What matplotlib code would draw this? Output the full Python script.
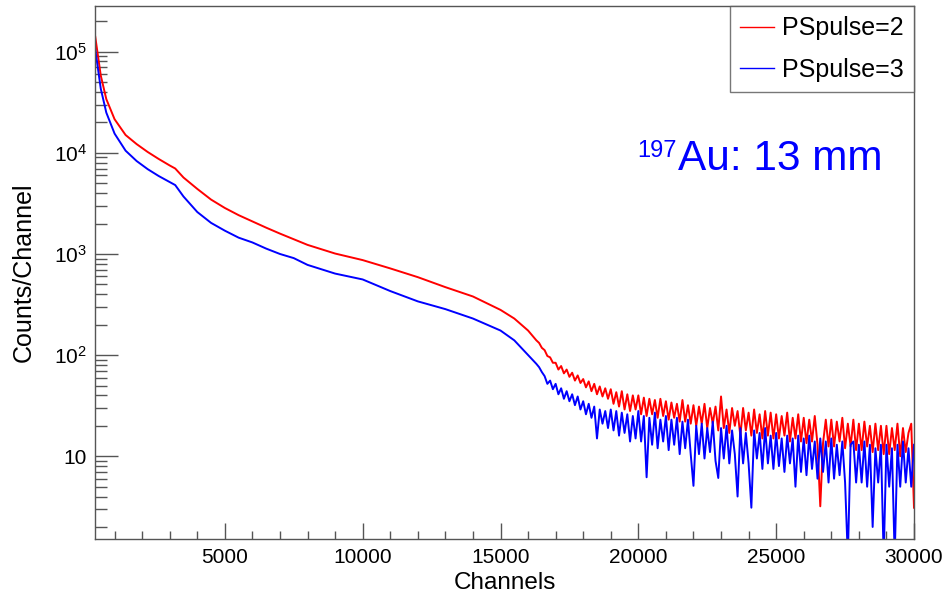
import numpy as np
import matplotlib
matplotlib.use("Agg")
import matplotlib.pyplot as plt
from matplotlib.ticker import FixedLocator, LogLocator, NullFormatter, MultipleLocator

plt.rcParams['font.family'] = ['Liberation Sans', 'DejaVu Sans']
plt.rcParams['mathtext.fontset'] = 'custom'
plt.rcParams['mathtext.rm'] = 'Liberation Sans'
plt.rcParams['mathtext.it'] = 'Liberation Sans:italic'

# ---- data ----
ch_main = [300, 500, 700, 1000, 1400, 1800, 2200, 2600, 3000, 3200, 3500, 4000, 4500,
           5000, 5500, 6000, 6500, 7000, 7500, 8000, 9000, 10000, 11000, 12000, 13000,
           14000, 15000, 15500, 16000, 16300]
red_main = [140000, 58000, 34000, 21500, 15000, 12200, 10200, 8700, 7500, 7000, 5700, 4400, 3450,
            2850, 2420, 2100, 1820, 1590, 1400, 1230, 1010, 870, 720, 590, 470,
            380, 280, 230, 175, 140]
blue_main = [105000, 43000, 25000, 15500, 10500, 8300, 6900, 5900, 5150, 4800, 3700, 2600, 2030,
             1700, 1450, 1300, 1130, 1000, 910, 780, 640, 560, 430, 340, 285,
             230, 175, 140, 100, 82]

ch_tail = list(range(16400, 30001, 100))
red_tail = [132, 118, 112, 98, 95, 84,
            84, 72, 78, 66, 72, 61, 67, 56, 63, 53,
            58, 48, 55, 44, 52, 41, 49, 39, 47, 37,
            46, 33, 43, 31, 44, 29, 41, 28, 40, 29,
            40, 26, 38, 25, 37, 26, 36, 24, 37, 25,
            35, 23, 34, 24, 33, 22, 36, 22, 32, 21,
            32, 20, 31, 21, 33, 19, 30, 21, 31, 18,
            39, 19, 29, 17, 30, 20, 28, 16, 30, 18,
            27, 16, 29, 17, 26, 15, 28, 16, 27, 15,
            26, 15, 25, 16, 27, 14, 24, 15, 26, 14,
            24, 13.5, 23, 14, 25, 13, 3.2, 13.5, 23, 12.5,
            23, 12.5, 22, 14, 24, 12, 21, 12.5, 23, 11.5,
            21, 11.5, 22, 12.5, 20, 11, 21, 11.5, 20, 10.5,
            20, 10.5, 19, 11.5, 21, 10, 19, 11, 17, 21,
            3.1]
blue_tail = [76, 68, 62, 52, 56, 46,
             52, 41, 47, 37, 44, 35, 41, 32, 39, 29,
             35, 26, 33, 24, 31, 15, 29, 21, 28, 19,
             29, 18, 28, 16, 27, 17, 26, 14, 25, 15,
             28, 14, 25, 6.2, 24, 13, 27, 12, 23, 14,
             25, 11.5, 23, 13, 24, 10.5, 22, 12, 23, 10.5,
             5.1, 20, 10.5, 21, 9.5, 19, 11, 22, 9, 6.1,
             19, 9.5, 20, 8.5, 18, 10.5, 4.0, 19, 8.5, 17,
             8.5, 3.1, 18, 9.5, 17, 7.5, 19, 8.5, 16, 7.5,
             17, 8, 15, 7, 16, 8.5, 15, 5.0, 16, 7,
             15, 6.5, 16, 7.5, 14, 6, 15, 7, 14, 5.5,
             15, 6, 13, 6.5, 14, 5.5, 1.0, 13, 14, 5.5,
             13, 5.5, 14, 5, 13, 2.0, 12, 5.5, 13, 1.0,
             13, 5, 12, 1.0, 13, 5, 14, 5.5, 12, 5,
             13]

labels = ["PSpulse=2", "PSpulse=3"]
ytick_vals = [10, 100, 1000, 10000, 100000]
ytick_labels = ["10", r"$\mathregular{10^{2}}$", r"$\mathregular{10^{3}}$",
                r"$\mathregular{10^{4}}$", r"$\mathregular{10^{5}}$"]
xtick_vals = [5000, 10000, 15000, 20000, 25000, 30000]

W, H = 945, 594
fig = plt.figure(figsize=(W / 100, H / 100), dpi=100)
ax = fig.add_axes([95 / W, 1 - 539.3 / H, (914 - 95) / W, (539.3 - 6) / H])

RED, BLUE = '#ff0000', '#0000ff'
ax.plot(ch_main + ch_tail, red_main + red_tail, color=RED, lw=1.4, label=labels[0])
ax.plot(ch_main + ch_tail, blue_main + blue_tail, color=BLUE, lw=1.4, label=labels[1])

ax.set_yscale('log')
ax.set_xlim(290, 30000)
ax.set_ylim(1.51, 2.83e5)

ax.yaxis.set_major_locator(FixedLocator(ytick_vals))
ax.set_yticklabels(ytick_labels)
ax.yaxis.set_minor_locator(LogLocator(base=10, subs=np.arange(2, 10)))
ax.yaxis.set_minor_formatter(NullFormatter())
ax.xaxis.set_major_locator(FixedLocator(xtick_vals))
ax.set_xticklabels([str(v) for v in xtick_vals])
ax.xaxis.set_minor_locator(MultipleLocator(1000))

spine_col = '#555555'
for s in ax.spines.values():
    s.set_color(spine_col)
    s.set_linewidth(1.0)

ax.tick_params(axis='y', which='major', direction='in', length=16.5, width=1, color=spine_col,
               labelsize=15, pad=6)
ax.tick_params(axis='y', which='minor', direction='in', length=8.5, width=1, color=spine_col)
ax.tick_params(axis='x', which='major', direction='in', length=11.5, width=1, color=spine_col,
               labelsize=15, pad=6)
ax.tick_params(axis='x', which='minor', direction='in', length=6, width=1, color=spine_col)

ax.set_xlabel("Channels", fontsize=17.5, labelpad=4)
ax.set_ylabel("Counts/Channel", fontsize=18, labelpad=13)

leg = ax.legend(loc='upper right', bbox_to_anchor=(1.0, 1.0), borderaxespad=0,
                fontsize=18, frameon=True, fancybox=False, edgecolor=spine_col,
                handlelength=1.35, handletextpad=0.3, labelspacing=0.68,
                borderpad=0.42)
leg.get_frame().set_linewidth(1.0)
for line in leg.get_lines():
    line.set_linewidth(1.0)

fig.text(637 / W, 1 - 157 / H, "197", color=BLUE, fontsize=17, ha='left', va='baseline')
fig.text(678 / W, 1 - 170 / H, "Au: 13 mm", color=BLUE, fontsize=30.5, ha='left', va='baseline')

fig.savefig("out.png", dpi=100)
